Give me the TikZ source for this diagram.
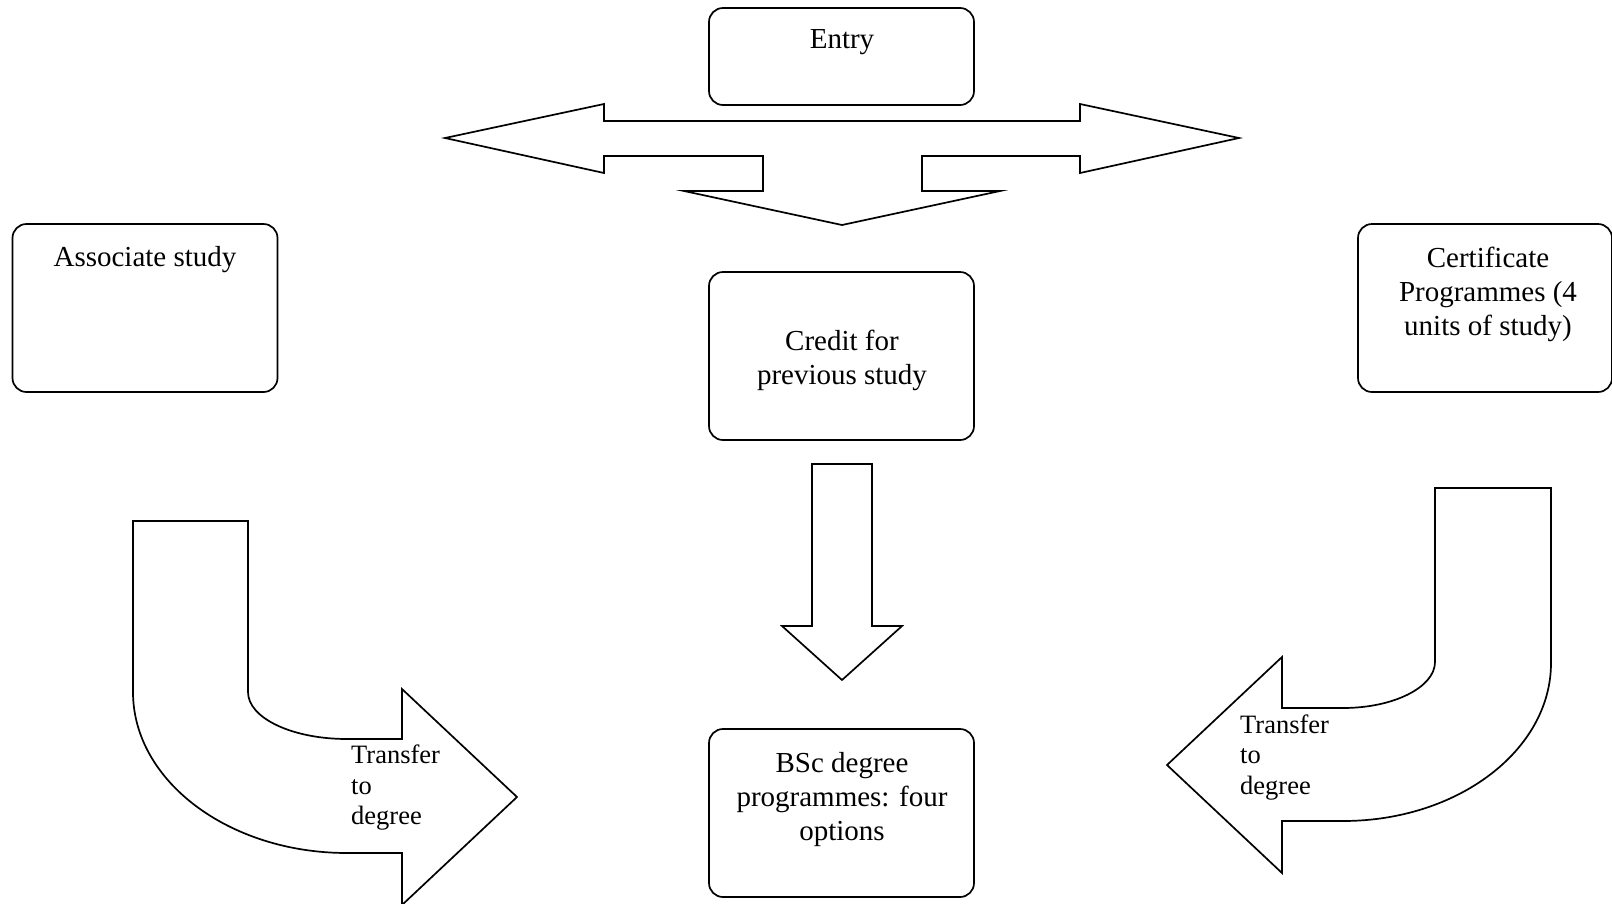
\documentclass[tikz,border=0pt]{standalone}
\usepackage{fontspec}
\setmainfont{Liberation Serif}
\begin{document}
\begin{tikzpicture}[x=1pt,y=-1pt,
  box/.style={draw, line width=1.7pt, rounded corners=14pt, inner sep=0pt},
  txt/.style={font=\fontsize{29}{34}\selectfont, align=center, inner sep=0pt},
  atxt/.style={font=\fontsize{26.5}{30.5}\selectfont, align=left, inner sep=0pt, anchor=west},
  blockarrow/.style={draw, line width=1.7pt, line join=miter, fill=white}]
\useasboundingbox (0,0) rectangle (1612,903);
% boxes
\node[box, minimum width=265pt, minimum height=97pt] (entrybox) at (841.5,56.5) {};
\node[box, minimum width=265pt, minimum height=168pt] (assocbox) at (145,308) {};
\node[box, minimum width=265pt, minimum height=168pt] (creditbox) at (841.5,356) {};
\node[box, minimum width=254pt, minimum height=168pt] (certbox) at (1485,308) {};
\node[box, minimum width=265pt, minimum height=168pt] (bscbox) at (841.5,813) {};
% texts
\node[txt] (entry) at (842,42) {Entry};
\node[txt] (assoc) at (145,260) {Associate study};
\node[txt] (credit) at (842,360) {Credit for\\previous study};
\node[txt] (cert) at (1488,294.5) {Certificate\\Programmes (4\\units of study)};
\node[txt] (bsc) at (842,799.5) {BSc degree\\programmes: four\\options};
% three-way block arrow
\draw[blockarrow] (445,138) -- (604,104) -- (604,121) -- (1080,121) -- (1080,104)
  -- (1239,138) -- (1080,173) -- (1080,156) -- (922,156) -- (922,191) -- (1000,191)
  -- (842,225) -- (684,191) -- (763,191) -- (763,156) -- (604,156) -- (604,173) -- cycle;
% middle down arrow
\draw[blockarrow] (812,464) -- (872,464) -- (872,626) -- (902,626) -- (842,680)
  -- (782,626) -- (812,626) -- cycle;
% left curved arrow
\draw[blockarrow] (133,521) -- (248,521) -- (248,692)
  .. controls (248,718) and (292,739) .. (347,739) -- (402,739) -- (402,689)
  -- (517,797) -- (402,905) -- (402,853) -- (347,853)
  .. controls (229,853) and (133,781) .. (133,692) -- cycle;
% right curved arrow
\draw[blockarrow] (1435,488) -- (1551,488) -- (1551,663)
  .. controls (1551,750) and (1458,821) .. (1343,821) -- (1282,821) -- (1282,873)
  -- (1167,765) -- (1282,657) -- (1282,708) -- (1343,708)
  .. controls (1394,708) and (1435,687) .. (1435,662) -- cycle;
% arrow texts
\node[atxt] (ltrans) at (351,788) {Transfer\\to\\degree};
\node[atxt] (rtrans) at (1240,757.5) {Transfer\\to\\degree};
\end{tikzpicture}
\end{document}
